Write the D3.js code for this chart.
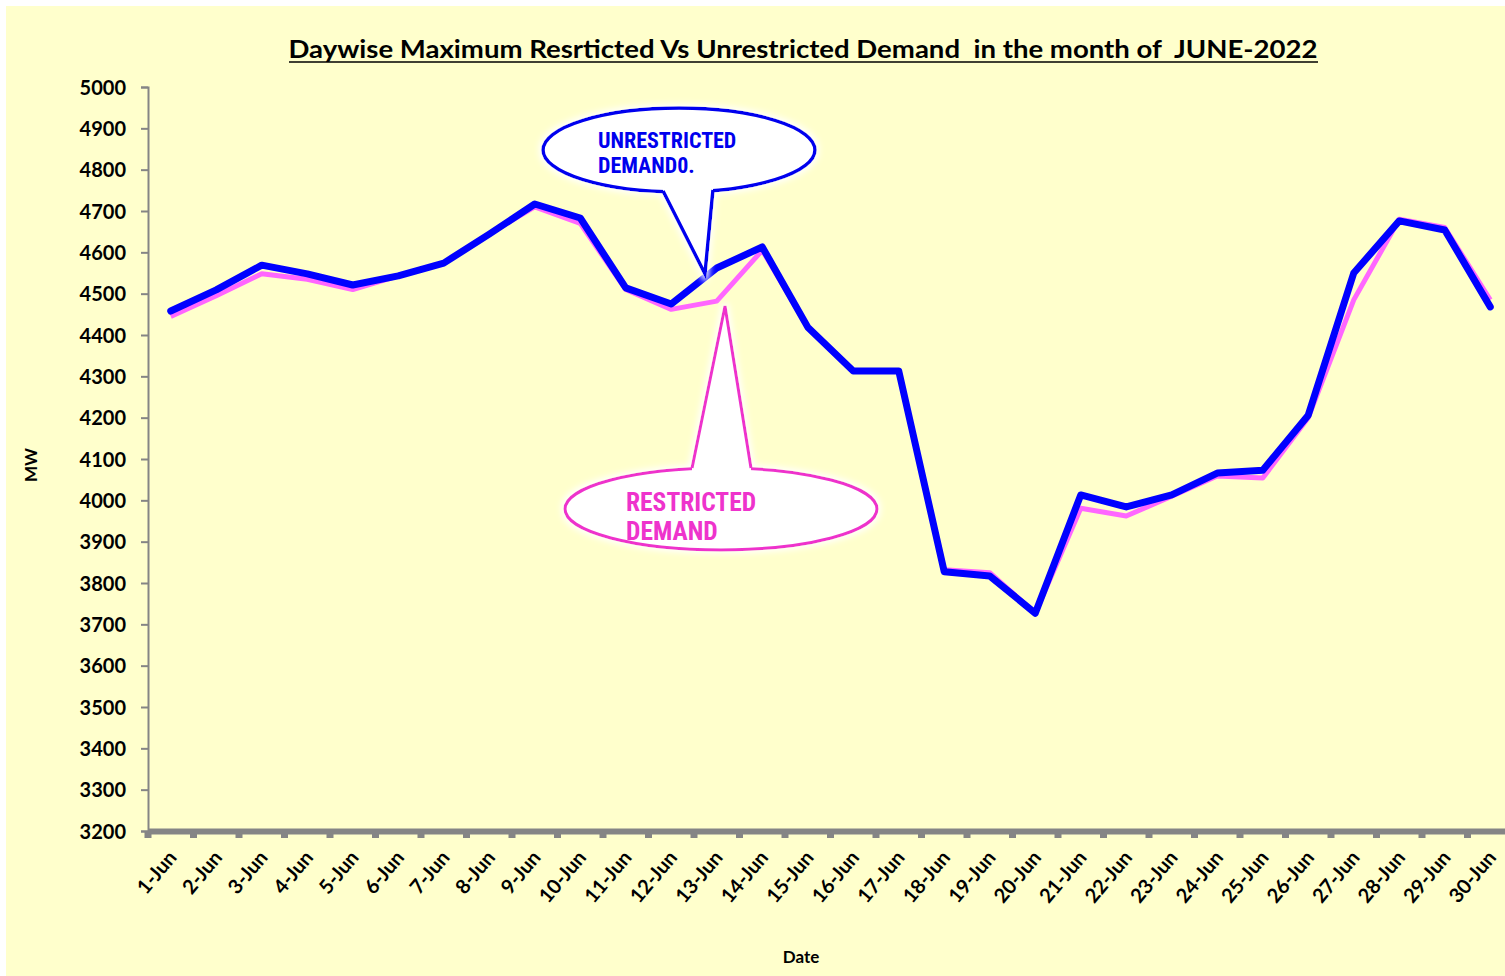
<!DOCTYPE html>
<html>
<head>
<meta charset="utf-8">
<script src="https://cdn.jsdelivr.net/npm/d3@7"></script>
<style>
  html, body { margin: 0; padding: 0; background: #ffffff; }
  svg { display: block; }
</style>
</head>
<body>
<svg id="chart" width="1505" height="976"></svg>
<script>
const dates = ["1-Jun","2-Jun","3-Jun","4-Jun","5-Jun","6-Jun","7-Jun","8-Jun","9-Jun","10-Jun",
  "11-Jun","12-Jun","13-Jun","14-Jun","15-Jun","16-Jun","17-Jun","18-Jun","19-Jun","20-Jun",
  "21-Jun","22-Jun","23-Jun","24-Jun","25-Jun","26-Jun","27-Jun","28-Jun","29-Jun","30-Jun"];
const unrestricted = [4458,4509,4569,4548,4521,4543,4574,4644,4717,4683,
  4514,4475,4562,4613,4419,4313,4313,3827,3817,3727,
  4013,3984,4013,4066,4073,4206,4550,4676,4654,4468];
const restricted = [4445,4495,4548,4535,4510,4543,4574,4645,4710,4670,
  4510,4462,4482,4605,4419,4313,4313,3832,3825,3727,
  3981,3962,4010,4059,4054,4200,4485,4680,4660,4485];
const yTicks = [3200,3300,3400,3500,3600,3700,3800,3900,4000,4100,4200,4300,4400,4500,4600,4700,4800,4900,5000];
const titleText = "Daywise Maximum Resrticted Vs Unrestricted Demand  in the month of  JUNE-2022";
const yTitle = "MW";
const xTitle = "Date";
const calloutUnrestricted = ["UNRESTRICTED", "DEMAND0."];
const calloutRestricted = ["RESTRICTED", "DEMAND"];

const svg = d3.select("#chart");
const FONT = "Lato, 'Open Sans', sans-serif";
const NARROW = "'Liberation Sans Narrow', 'Arial Narrow', 'Roboto Condensed', sans-serif";

// glow filter
const defs = svg.append("defs");
const f = defs.append("filter").attr("id","glow").attr("x","-20%").attr("y","-20%").attr("width","140%").attr("height","140%");
f.append("feMorphology").attr("in","SourceAlpha").attr("operator","dilate").attr("radius",2).attr("result","d");
f.append("feGaussianBlur").attr("in","d").attr("stdDeviation",3).attr("result","b");
f.append("feFlood").attr("flood-color","#ffffff").attr("result","w");
f.append("feComposite").attr("in","w").attr("in2","b").attr("operator","in").attr("result","g");
const fm = f.append("feMerge");
fm.append("feMergeNode").attr("in","g");
fm.append("feMergeNode").attr("in","SourceGraphic");

// background
svg.append("rect").attr("x",6).attr("y",6).attr("width",1499).attr("height",970).attr("fill","#FFFFCC");

const x = d3.scaleBand().domain(dates).range([148, 1513]).paddingInner(0).paddingOuter(0);
const y = d3.scaleLinear().domain([3200, 5000]).range([831, 87]);
const cx = d => x(d) + x.bandwidth() / 2;

// title
svg.append("text")
  .attr("x", 803).attr("y", 58)
  .attr("text-anchor","middle")
  .attr("font-family", FONT).attr("font-weight","bold").attr("font-size", 24)
  .attr("fill","#000")
  .attr("textLength", 1029).attr("lengthAdjust","spacingAndGlyphs")
  .style("white-space","pre")
  .text(titleText);
svg.append("line").attr("x1",289).attr("x2",1318).attr("y1",62).attr("y2",62)
  .attr("stroke","#000").attr("stroke-width",1.6);

// y axis
const yAxis = d3.axisLeft(y).tickValues(yTicks).tickSize(7).tickPadding(15).tickFormat(d3.format("d"));
const gy = svg.append("g").attr("transform","translate(148,0)").call(yAxis);
gy.select(".domain").attr("stroke","#858585").attr("stroke-width",2);
gy.selectAll(".tick line").attr("stroke","#858585").attr("stroke-width",2);
gy.selectAll(".tick text").attr("font-family",FONT).attr("font-weight","bold").attr("font-size",20).attr("fill","#000").attr("dy","0.36em");

// x axis
const xAxis = d3.axisBottom(x).tickSize(0).tickFormat("");
const gx = svg.append("g").attr("transform","translate(0,831)").call(xAxis);
gx.select(".domain").attr("stroke","#858585").attr("stroke-width",6);
// tick stubs at category boundaries
const boundaries = dates.map(d => x(d));
svg.append("g").selectAll("line").data(boundaries).join("line")
  .attr("x1", d => d).attr("x2", d => d).attr("y1", 831).attr("y2", 838)
  .attr("stroke","#858585").attr("stroke-width",7);

// x tick labels
svg.append("g").selectAll("text").data(dates).join("text")
  .attr("transform", d => `translate(${cx(d) + 7},858) rotate(-50)`)
  .attr("text-anchor","end")
  .attr("font-family",FONT).attr("font-weight","bold").attr("font-size",20)
  .attr("fill","#000")
  .text(d => d);

// axis titles
svg.append("text").attr("transform","translate(37,465) rotate(-90)")
  .attr("text-anchor","middle").attr("font-family",FONT).attr("font-weight","bold").attr("font-size",17)
  .text(yTitle);
svg.append("text").attr("x",801).attr("y",963)
  .attr("text-anchor","middle").attr("font-family",FONT).attr("font-weight","bold").attr("font-size",17)
  .text(xTitle);

// lines
const line = d3.line().x((v,i) => cx(dates[i])).y(v => y(v));
svg.append("path").datum(restricted).attr("d", line)
  .attr("fill","none").attr("stroke","#FF66FF").attr("stroke-width",5).attr("stroke-linejoin","round");
svg.append("path").datum(unrestricted).attr("d", line)
  .attr("fill","none").attr("stroke","#0000FF").attr("stroke-width",7).attr("stroke-linejoin","round").attr("stroke-linecap","round");

// callouts
function callout(opts) {
  const g = svg.append("g").attr("filter","url(#glow)");
  const {ecx, ecy, rx, ry, b1, b2, tip, color, sw} = opts;
  g.append("ellipse").attr("cx",ecx).attr("cy",ecy).attr("rx",rx).attr("ry",ry)
    .attr("fill","#fff").attr("stroke",color).attr("stroke-width",sw);
  const inward = opts.up ? -8 : 8;
  g.append("path")
    .attr("d", `M${b1[0]},${b1[1]} L${tip[0]},${tip[1]} L${b2[0]},${b2[1]} L${b2[0]},${b2[1]+inward} L${b1[0]},${b1[1]+inward} Z`)
    .attr("fill","#fff").attr("stroke","none");
  g.append("path")
    .attr("d", `M${b1[0]},${b1[1]} L${tip[0]},${tip[1]} L${b2[0]},${b2[1]}`)
    .attr("fill","none").attr("stroke",color).attr("stroke-width",sw).attr("stroke-linejoin","miter");
  const t = svg.append("text").attr("font-family",NARROW).attr("font-weight","bold")
    .attr("font-size",opts.fs).attr("fill",color);
  opts.lines.forEach((s,i) => {
    t.append("tspan").attr("x",opts.tx).attr("y",opts.ty + i*opts.lh).text(s);
  });
}
callout({ecx:679, ecy:150, rx:136, ry:42, b1:[663,191], b2:[713,190], tip:[705,274],
  color:"#0000EE", sw:3.5, up:true, lines:calloutUnrestricted, tx:598, ty:148, lh:25, fs:22});
callout({ecx:721, ecy:509, rx:156, ry:41, b1:[692,468], b2:[751,468], tip:[725,306],
  color:"#EE33CC", sw:3, up:false, lines:calloutRestricted, tx:626, ty:511, lh:29, fs:25.5});
</script>
</body>
</html>
